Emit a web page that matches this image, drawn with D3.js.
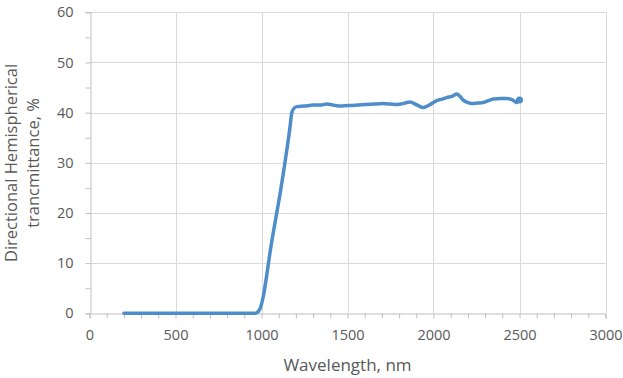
<!DOCTYPE html>
<html><head><meta charset="utf-8">
<script src="https://cdn.jsdelivr.net/npm/d3@7"></script>
<style>body{margin:0;background:#fff}svg{display:block}</style>
</head><body>
<script>
const wavelength = [200,400,600,800,900,960,972,990,1010,1030,1049,1068,1088,1108,1127,1147,1166,1175,1185,1204,1250,1301,1340,1379,1420,1456,1500,1560,1600,1650,1708,1750,1786,1820,1863,1900,1941,1980,2018,2050,2077,2110,2135,2155,2173,2200,2222,2255,2290,2320,2348,2390,2426,2455,2474,2485,2493,2500];
const transmittance = [0,0,0,0,0,0,0.1,0.8,3.3,7.5,12,16,19.9,23.8,27.9,32.5,37.2,39.8,40.7,41.2,41.3,41.5,41.5,41.7,41.5,41.3,41.4,41.5,41.6,41.7,41.8,41.7,41.6,41.8,42.1,41.6,41.0,41.6,42.4,42.7,43.0,43.3,43.7,43.2,42.5,42.0,41.8,41.9,42.0,42.4,42.7,42.8,42.8,42.6,42.2,42.0,42.5,42.5];
const xTicks = [0,500,1000,1500,2000,2500,3000];
const yTicks = [0,10,20,30,40,50,60];
const xTitle = "Wavelength, nm";
const yTitleLines = ["Directional Hemispherical","trancmittance, %"];

const W=623,H=378;
const svg=d3.select("body").append("svg").attr("width",W).attr("height",H);
const x=d3.scaleLinear().domain([0,3000]).range([89.5,605.5]);
const y=d3.scaleLinear().domain([0,60]).range([313.3,12.3]);
const font="'Open Sans', 'Liberation Sans', sans-serif";
const grid="#d9d9d9", axisC="#bfbfbf", txt="#595959", lineC="#4f8dca";

// gridlines
svg.append("g").selectAll("line").data(yTicks.filter(d=>d>0)).join("line")
 .attr("x1",x(0)).attr("x2",x(3000)).attr("y1",d=>Math.round(y(d))+0.5).attr("y2",d=>Math.round(y(d))+0.5)
 .attr("stroke",grid).attr("stroke-width",1);
svg.append("g").selectAll("line").data(xTicks.filter(d=>d>0)).join("line")
 .attr("y1",y(0)).attr("y2",y(60)).attr("x1",d=>Math.round(x(d))+0.5).attr("x2",d=>Math.round(x(d))+0.5)
 .attr("stroke",grid).attr("stroke-width",1);

// x axis
const xa=svg.append("g").attr("transform",`translate(0,${Math.round(y(0))+0.5})`)
 .call(d3.axisBottom(x).tickValues(d3.range(0,3001,100)).tickSize(5).tickFormat(""));
xa.select(".domain").attr("stroke",axisC);
xa.selectAll(".tick line").attr("stroke",axisC);
const xl=svg.append("g").attr("transform",`translate(0,${Math.round(y(0))+0.5})`)
 .call(d3.axisBottom(x).tickValues(xTicks).tickSize(0).tickPadding(16).tickFormat(d3.format("d")));
xl.select(".domain").remove();
xl.selectAll("text").attr("fill",txt).attr("font-size",14.5).attr("font-family",font);

// y axis
const ya=svg.append("g").attr("transform",`translate(${Math.round(x(0))+0.5},0)`)
 .call(d3.axisLeft(y).tickValues(d3.range(0,61,5)).tickSize(5).tickFormat(""));
ya.select(".domain").attr("stroke",axisC);
ya.selectAll(".tick line").attr("stroke",axisC);
const yl=svg.append("g").attr("transform",`translate(${Math.round(x(0))+0.5},0)`)
 .call(d3.axisLeft(y).tickValues(yTicks).tickSize(0).tickPadding(17).tickFormat(d3.format("d")));
yl.select(".domain").remove();
yl.selectAll("text").attr("fill",txt).attr("font-size",14.5).attr("font-family",font);

// line
const pts=wavelength.map((w,i)=>[w,transmittance[i]]);
svg.append("path").datum(pts)
 .attr("d",d3.line().x(d=>x(d[0])).y(d=>y(d[1])).curve(d3.curveMonotoneX))
 .attr("fill","none").attr("stroke",lineC).attr("stroke-width",3.5).attr("stroke-linejoin","round").attr("stroke-linecap","round");
svg.append("circle").attr("cx",x(wavelength[wavelength.length-1])).attr("cy",y(transmittance[transmittance.length-1]))
 .attr("r",3.5).attr("fill",lineC);

// titles
svg.append("text").attr("x",(x(0)+x(3000))/2).attr("y",371).attr("text-anchor","middle")
 .attr("fill",txt).attr("font-size",17).attr("font-family",font).text(xTitle);
const yt=svg.append("text").attr("transform","translate(0,163) rotate(-90)").attr("text-anchor","middle")
 .attr("fill",txt).attr("font-size",16.5).attr("font-family",font);
yTitleLines.forEach((t,i)=>yt.append("tspan").attr("x",0).attr("y",i===0?17:39).text(t));
</script>
</body></html>
